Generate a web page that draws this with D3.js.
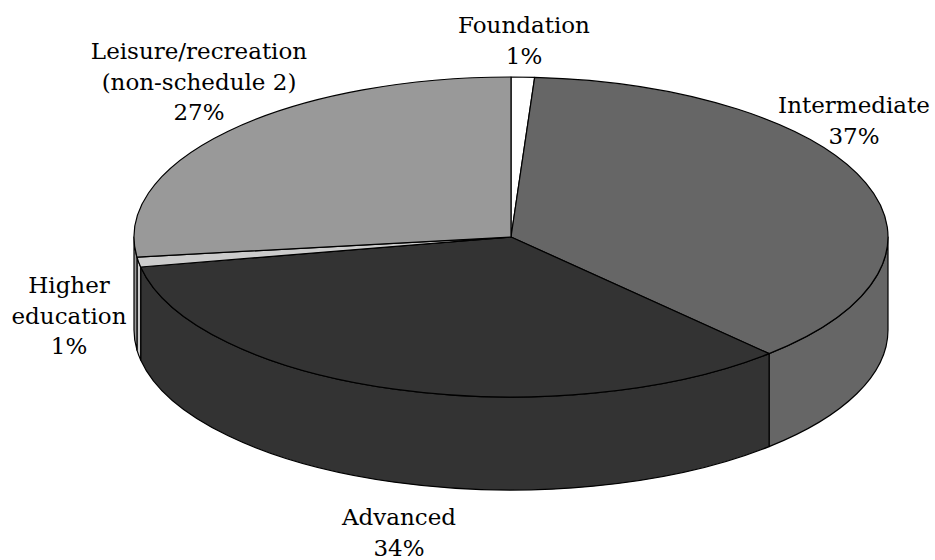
<!DOCTYPE html>
<html>
<head>
<meta charset="utf-8">
<script src="https://cdn.jsdelivr.net/npm/d3@7"></script>
<style>
  html, body { margin: 0; padding: 0; background: #fff; }
  svg { display: block; }
  text { font-family: "DejaVu Serif", serif; font-size: 23px; fill: #000; text-anchor: middle; }
</style>
</head>
<body>
<svg id="chart" width="935" height="560"></svg>
<script>
// Share of provision by programme level
const categories = ["Foundation", "Intermediate", "Advanced", "Higher education", "Leisure/recreation (non-schedule 2)"];
const shares = [1, 37, 34, 1, 27];
const fills = ["#ffffff", "#666666", "#333333", "#cccccc", "#999999"];
const labelLines = [
  ["Foundation", "1%"],
  ["Intermediate", "37%"],
  ["Advanced", "34%"],
  ["Higher", "education", "1%"],
  ["Leisure/recreation", "(non-schedule 2)", "27%"]
];
const labelAnchors = [[524, 33], [854, 113], [399, 525], [69, 293], [199, 59]];

const width = 935, height = 560;
const cx = 511, cy = 237, rx = 377, ry = 160, depth = 93;
const lineHeight = 30.5;

const svg = d3.select("#chart");

// Maps a pie angle (0 at twelve o'clock, clockwise) onto the tilted disc
const px = a => cx + rx * Math.sin(a);
const py = a => cy - ry * Math.cos(a);

const slices = d3.pie().value(d => d).sort(null)(shares);

function wedgePath(s) {
  const large = s.endAngle - s.startAngle > Math.PI ? 1 : 0;
  return `M${cx},${cy}L${px(s.startAngle)},${py(s.startAngle)}` +
         `A${rx},${ry} 0 ${large} 1 ${px(s.endAngle)},${py(s.endAngle)}Z`;
}

// Outer wall of a slice: only the arc between three and nine o'clock faces the viewer
function wallPath(s) {
  const a0 = Math.max(s.startAngle, Math.PI / 2);
  const a1 = Math.min(s.endAngle, 3 * Math.PI / 2);
  if (a1 <= a0) return null;
  return `M${px(a0)},${py(a0)}A${rx},${ry} 0 0 1 ${px(a1)},${py(a1)}` +
         `L${px(a1)},${py(a1) + depth}A${rx},${ry} 0 0 0 ${px(a0)},${py(a0) + depth}Z`;
}

svg.append("g").attr("class", "walls")
  .selectAll("path")
  .data(slices.filter(s => wallPath(s)))
  .join("path")
  .attr("d", wallPath)
  .attr("fill", s => fills[s.index])
  .attr("stroke", "#000")
  .attr("stroke-width", 1.2)
  .attr("stroke-linejoin", "round");

svg.append("g").attr("class", "top")
  .selectAll("path")
  .data(slices)
  .join("path")
  .attr("d", wedgePath)
  .attr("fill", s => fills[s.index])
  .attr("stroke", "#000")
  .attr("stroke-width", 1.2)
  .attr("stroke-linejoin", "round");

const labels = svg.append("g").attr("class", "labels")
  .selectAll("text")
  .data(categories)
  .join("text")
  .attr("aria-label", d => d)
  .attr("x", (d, i) => labelAnchors[i][0])
  .attr("y", (d, i) => labelAnchors[i][1]);

labels.selectAll("tspan")
  .data((d, i) => labelLines[i].map(t => ({ t, x: labelAnchors[i][0] })))
  .join("tspan")
  .attr("x", d => d.x)
  .attr("dy", (d, j) => j ? lineHeight : 0)
  .text(d => d.t);
</script>
</body>
</html>
